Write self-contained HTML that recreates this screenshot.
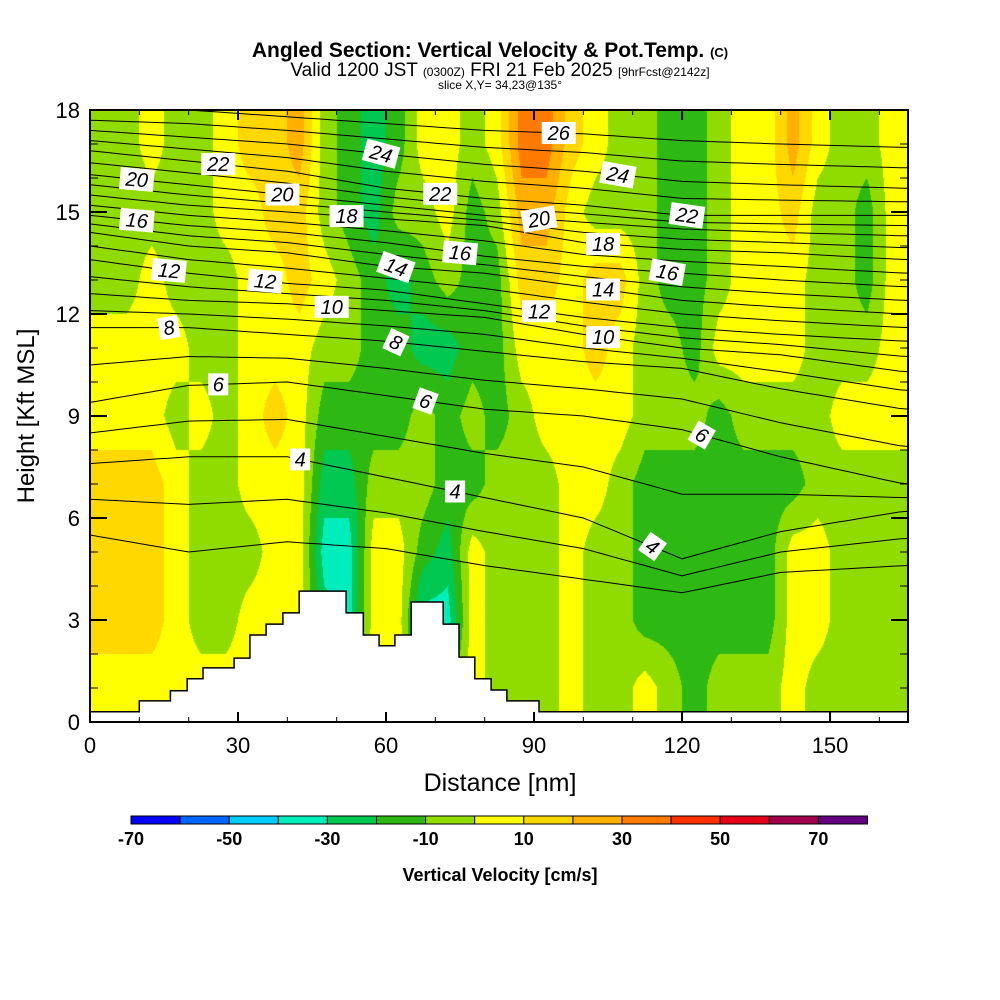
<!DOCTYPE html>
<html><head><meta charset="utf-8"><style>
body{margin:0;background:#fff;}
#heatCanvas{position:absolute;left:90px;top:110px;}
#chart{position:absolute;left:0;top:0;}
svg text{font-family:"Liberation Sans",sans-serif;}
</style></head><body>
<canvas id="heatCanvas" width="818" height="612"></canvas>
<svg id="chart" width="1000" height="1000" viewBox="0 0 1000 1000" xmlns="http://www.w3.org/2000/svg">
<defs>
<clipPath id="plotClip"><rect x="90" y="110" width="818" height="612"/></clipPath>
</defs>
<g>
<text x="490" y="57" text-anchor="middle" font-size="21" font-weight="bold">Angled Section: Vertical Velocity &amp; Pot.Temp. <tspan font-size="13">(C)</tspan></text>
<text x="500" y="76" text-anchor="middle" font-size="19">Valid 1200 JST <tspan font-size="12">(0300Z)</tspan> FRI 21 Feb 2025 <tspan font-size="12">[9hrFcst@2142z]</tspan></text>
<text x="500" y="89" text-anchor="middle" font-size="12">slice X,Y= 34,23@135°</text>
</g>
<g id="contours" clip-path="url(#plotClip)"></g>
<polygon id="terrain" fill="#fff" stroke="#000" stroke-width="1.5"/>
<g id="labels"></g>
<rect x="90" y="110" width="818" height="612" fill="none" stroke="#000" stroke-width="2"/>
<g id="axes"></g>
<text x="500" y="791" text-anchor="middle" font-size="25">Distance [nm]</text>
<text transform="translate(34,416) rotate(-90)" text-anchor="middle" font-size="24">Height [Kft MSL]</text>
<g id="cbar"></g>
<text x="500" y="881" text-anchor="middle" font-size="18" font-weight="bold">Vertical Velocity [cm/s]</text>
</svg>
<script>
// velocity columns every 5 nm; values top (16-18 kft) to bottom (0-2 kft)
const vv = [
[-5,-5,-5,5,5,15,15,15,5],
[-5,-5,-5,5,5,15,15,15,5],
[5,-5,5,5,5,15,15,15,5],
[-5,-5,-5,5,-5,5,5,5,5],
[-5,-5,-5,-5,5,-5,-5,-5,5],
[5,5,-5,-5,-5,-5,-5,-5,5],
[15,5,5,5,5,5,-5,5,5],
[15,15,5,5,15,5,5,5,5],
[25,15,15,5,5,5,5,5,5],
[-5,-5,5,-5,-15,-25,-35,-25,-25],
[-15,-15,-5,-5,-15,-25,-35,-35,-25],
[-25,-25,-15,-15,-15,-5,5,5,5],
[-15,-5,-25,-15,-15,-5,5,5,5],
[5,-5,-15,-25,-5,-5,-15,-35,-25],
[5,5,-5,-25,-15,-15,-25,-35,-15],
[-5,-15,-15,-15,-5,-15,5,5,5],
[5,-5,-15,-15,-15,-5,-5,-5,-5],
[35,25,15,5,-5,-5,-5,-5,-5],
[35,25,15,5,5,-5,-5,-5,-5],
[15,5,5,5,5,5,5,5,5],
[5,-5,15,15,5,5,-5,-5,-5],
[-5,-5,15,5,5,-5,-5,-5,-5],
[-5,-5,-5,-5,-5,-15,-15,-15,5],
[-15,-15,-15,-5,-5,-15,-15,-15,-5],
[-15,-15,-15,-15,-5,-15,-15,-15,-15],
[-5,-5,-5,5,-15,-15,-15,-15,-5],
[5,5,5,5,-5,-15,-15,-15,-5],
[5,5,5,5,-5,-15,-15,-15,-5],
[25,15,5,5,-5,-15,5,5,5],
[5,-5,-5,-5,-5,-5,5,5,-5],
[-5,-5,-5,-5,5,-5,-5,-5,-5],
[-5,-15,-15,-5,5,-5,-5,-5,-5],
[5,5,5,5,5,-5,-5,-5,-5],
[5,5,5,5,5,-5,-5,-5,-5]
];
const binEdges = [-70,-60,-50,-40,-30,-20,-10,0,10,20,30,40,50,60,70,80];
const binColors = ["#0000ff","#0066ff","#00ccff","#00eebb","#00c850","#2db814","#91dc00","#ffff00","#ffd800","#ffb000","#ff7a00","#ff3000","#e8001a","#a0004a","#640080"];
const cbarLabels = [-70,-50,-30,-10,10,30,50,70];
const xTicks = [0,30,60,90,120,150];
const yTicks = [0,3,6,9,12,15,18];
// theta contour heights (kft) at x nodes
const xNodes = [0,20,40,60,80,100,120,140,165];
const thetaLevels = [2,4,6,8,10,12,14,16,18,20,22,24,26];
const thetaHeights = [
[5.5,5.0,5.3,5.1,4.6,4.2,3.8,4.4,4.6],
[7.6,7.8,7.8,7.2,6.6,6.0,4.8,5.6,6.2],
[9.4,9.9,10.0,9.6,9.2,9.0,8.6,7.8,7.0],
[11.6,11.6,11.4,11.2,10.9,10.6,10.4,9.8,9.2],
[12.6,12.4,12.3,12.1,11.9,11.4,11.0,10.8,10.3],
[13.6,13.2,12.9,12.7,12.3,11.9,11.6,11.4,11.2],
[14.4,14.0,13.8,13.4,13.2,12.8,12.4,12.2,12.0],
[14.9,14.6,14.4,14.1,13.7,13.4,13.2,13.0,12.8],
[15.5,15.2,15.0,14.8,14.6,14.1,13.9,13.8,13.6],
[16.1,15.8,15.5,15.2,14.9,14.7,14.5,14.4,14.3],
[16.8,16.5,16.2,15.7,15.4,15.2,14.9,14.9,14.9],
[17.4,17.2,17.0,16.7,16.4,16.2,15.9,15.8,15.7],
[18.0,18.0,17.8,17.6,17.4,17.3,17.1,17.0,16.9]
];
const labelTheta = [20,22,24,26,16,20,18,22,24,22,12,12,14,16,20,18,16,8,10,14,12,10,6,8,4,6,4,6,4];
const labelX = [9.5,26,59,95,9.5,39,52,71,107,121,16,35.5,62,75,91,104,117,16,49,104,91,104,26,62,42.6,68,74,124,114];
const labelRot = [5,0,15,0,5,0,0,0,10,8,5,5,20,5,-10,0,10,-10,0,0,0,0,0,25,0,20,0,30,35];
const terrainNm = [0,10,10,16.3,16.3,19.7,19.7,22.9,22.9,29.2,29.2,32.4,32.4,35.7,35.7,39.1,39.1,42.4,42.4,51.9,51.9,55.4,55.4,58.6,58.6,61.8,61.8,65.1,65.1,71.6,71.6,74.8,74.8,78,78,81.3,81.3,84.5,84.5,91,91,165.8,165.8,0];
const terrainKft = [0.3,0.3,0.62,0.62,0.92,0.92,1.27,1.27,1.59,1.59,1.88,1.88,2.56,2.56,2.88,2.88,3.21,3.21,3.85,3.85,3.21,3.21,2.56,2.56,2.24,2.24,2.56,2.56,3.53,3.53,2.88,2.88,1.91,1.91,1.27,1.27,0.94,0.94,0.62,0.62,0.3,0.3,0,0];

const NS="http://www.w3.org/2000/svg";
const X0=90,X1=908,Y0=722,Y1=110,XMAX=165.8,YMAX=18;
const sx=v=>X0+v*(X1-X0)/XMAX;
const sy=v=>Y0-v*(Y0-Y1)/YMAX;
function colorOf(v){for(let i=0;i<binColors.length;i++){if(v<binEdges[i+1])return binColors[i];}return binColors[binColors.length-1];}
function mk(tag,attrs,parent){const e=document.createElementNS(NS,tag);for(const k in attrs)e.setAttribute(k,attrs[k]);parent.appendChild(e);return e;}
function hex2rgb(h){return [parseInt(h.substr(1,2),16),parseInt(h.substr(3,2),16),parseInt(h.substr(5,2),16)];}

// heatmap: bilinear interpolation between cell centres, then bin colouring
(function(){
  const cv=document.getElementById('heatCanvas');
  const ctx=cv.getContext('2d');
  const W=cv.width,H=cv.height;
  const img=ctx.createImageData(W,H);
  const rgb=binColors.map(hex2rgb);
  const nc=vv.length,nr=vv[0].length;
  for(let py=0;py<H;py++){
    const kft=YMAX-(py+0.5)*YMAX/H;
    let fr=(18-kft)/2-0.5; fr=Math.max(0,Math.min(nr-1,fr));
    const r0=Math.floor(fr),r1=Math.min(nr-1,r0+1),tr=fr-r0;
    for(let px=0;px<W;px++){
      const nm=(px+0.5)*XMAX/W;
      let fc=nm/5-0.5; fc=Math.max(0,Math.min(nc-1,fc));
      const c0=Math.floor(fc),c1=Math.min(nc-1,c0+1),tc=fc-c0;
      const v=(vv[c0][r0]*(1-tc)+vv[c1][r0]*tc)*(1-tr)+(vv[c0][r1]*(1-tc)+vv[c1][r1]*tc)*tr;
      let bi=rgb.length-1;
      for(let i=0;i<rgb.length;i++){if(v<binEdges[i+1]){bi=i;break;}}
      const o=(py*W+px)*4;
      img.data[o]=rgb[bi][0];img.data[o+1]=rgb[bi][1];img.data[o+2]=rgb[bi][2];img.data[o+3]=255;
    }
  }
  ctx.putImageData(img,0,0);
})();

function heightAt(profile,x){
  for(let k=0;k<xNodes.length-1;k++){
    if(x<=xNodes[k+1]){const t=(x-xNodes[k])/(xNodes[k+1]-xNodes[k]);return profile[k]+t*(profile[k+1]-profile[k]);}
  }
  return profile[profile.length-1];
}
const cont=document.getElementById('contours');
const allProfiles=[];
for(let i=0;i<thetaHeights.length;i++){
  allProfiles.push(thetaHeights[i]);
  if(i<thetaHeights.length-1){
    allProfiles.push(thetaHeights[i].map((h,k)=>(h+thetaHeights[i+1][k])/2));
  }
}
allProfiles.forEach(p=>{
  const pts=[];
  for(let x=0;x<=166;x+=2){pts.push(sx(x).toFixed(1)+','+sy(heightAt(p,x)).toFixed(1));}
  const l=mk('polyline',{points:pts.join(' '),fill:'none',stroke:'#000','stroke-width':1},cont);
  
  
});

const terr=document.getElementById('terrain');
terr.setAttribute('points',terrainNm.map((n,i)=>sx(n).toFixed(1)+','+sy(terrainKft[i]).toFixed(1)).join(' '));

const labs=document.getElementById('labels');
labelTheta.forEach((t,i)=>{
  const idx=thetaLevels.indexOf(t);
  const x=sx(labelX[i]), y=sy(heightAt(thetaHeights[idx],labelX[i]));
  const g=mk('g',{transform:`translate(${x},${y}) rotate(${labelRot[i]})`},labs);
  
  
  const w=t>=10?34:20;
  mk('rect',{x:-w/2,y:-11,width:w,height:22,fill:'#fff'},g);
  const tx=mk('text',{x:0,y:7,'text-anchor':'middle','font-size':20,'font-style':'italic','font-family':'Liberation Serif, serif'},g);
  tx.textContent=t;
});

const axes=document.getElementById('axes');
xTicks.forEach(v=>{
  const x=sx(v);
  mk('line',{x1:x,y1:Y0,x2:x,y2:Y0-10,stroke:'#000','stroke-width':2},axes);
  mk('line',{x1:x,y1:Y1,x2:x,y2:Y1+10,stroke:'#000','stroke-width':2},axes);
  const t=mk('text',{x:x,y:753,'text-anchor':'middle','font-size':22},axes);
  t.textContent=v;
  
  
});
for(let v=0;v<=165;v+=10){const x=sx(v);
  mk('line',{x1:x,y1:Y0,x2:x,y2:Y0-5,stroke:'#000','stroke-width':1},axes);
  mk('line',{x1:x,y1:Y1,x2:x,y2:Y1+5,stroke:'#000','stroke-width':1},axes);}
yTicks.forEach(v=>{
  const y=sy(v);
  mk('line',{x1:X0,y1:y,x2:X0+17,y2:y,stroke:'#000','stroke-width':2},axes);
  mk('line',{x1:X1,y1:y,x2:X1-17,y2:y,stroke:'#000','stroke-width':2},axes);
  const t=mk('text',{x:80,y:y+8,'text-anchor':'end','font-size':22},axes);
  t.textContent=v;
  
  
});
for(let v=0;v<=18;v+=1){const y=sy(v);
  mk('line',{x1:X0,y1:y,x2:X0+8,y2:y,stroke:'#000','stroke-width':1},axes);
  mk('line',{x1:X1,y1:y,x2:X1-8,y2:y,stroke:'#000','stroke-width':1},axes);}

const cb=document.getElementById('cbar');
const CB0=131,CBW=49.1;
binColors.forEach((c,i)=>{
  const r=mk('rect',{x:CB0+i*CBW,y:816,width:CBW,height:8,fill:c,stroke:'#000','stroke-width':1},cb);
  
  
});
cbarLabels.forEach(v=>{
  const i=binEdges.indexOf(v);
  const t=mk('text',{x:CB0+i*CBW,y:845,'text-anchor':'middle','font-size':18,'font-weight':'bold'},cb);
  t.textContent=v;
  
  
});
</script>
</body></html>
